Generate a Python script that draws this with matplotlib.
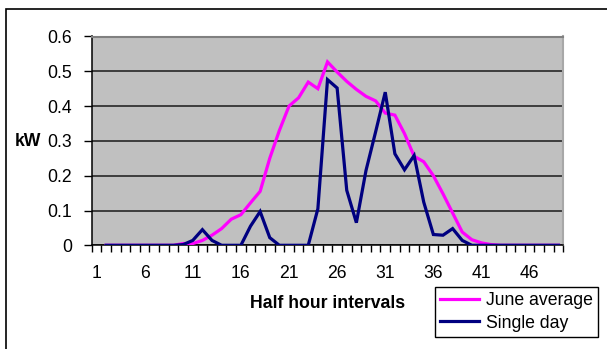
import numpy as np
import matplotlib
matplotlib.use("Agg")
import matplotlib.pyplot as plt
from matplotlib.patches import Rectangle
from matplotlib.ticker import FixedLocator

plt.rcParams['font.family'] = ['Liberation Sans', 'DejaVu Sans']

categories = list(range(1, 50))
tick_labels = [1, 6, 11, 16, 21, 26, 31, 36, 41, 46]
june_average = [np.nan, 0, 0, 0, 0, 0, 0, 0, 0, 0.005,
                0.005, 0.014, 0.029, 0.048, 0.075, 0.088, 0.122, 0.155, 0.25, 0.33,
                0.40, 0.424, 0.469, 0.45, 0.527, 0.498, 0.471, 0.448, 0.428, 0.415,
                0.38, 0.374, 0.321, 0.256, 0.24, 0.2, 0.148, 0.093, 0.038, 0.016,
                0.007, 0.002, 0, 0, 0, 0, 0, 0, 0]
single_day = [np.nan, 0, 0, 0, 0, 0, 0, 0, 0, 0.002,
              0.014, 0.045, 0.014, 0, 0, 0, 0.055, 0.097, 0.022, 0,
              0, 0, 0, 0.105, 0.476, 0.452, 0.158, 0.065, 0.215, 0.326,
              0.44, 0.263, 0.217, 0.258, 0.124, 0.031, 0.029, 0.048, 0.014, 0,
              0, 0, 0, 0, 0, 0, 0, 0, 0]

W, H = 607, 349
fig = plt.figure(figsize=(W / 100, H / 100), dpi=100)
ax = fig.add_axes([91.7 / W, 1 - 245.3 / H, (563.3 - 91.7) / W, (245.3 - 36.5) / H])
ax.set_facecolor('#C0C0C0')

ax.plot(categories, june_average, color='#FF00FF', lw=2.3, solid_joinstyle='miter', zorder=3)
ax.plot(categories, single_day, color='#000080', lw=2.3, solid_joinstyle='miter', zorder=4)

ax.set_xlim(0.5, 49.5)
ax.set_ylim(0, 0.6)
ax.set_yticks(np.arange(0, 0.61, 0.1))
ax.set_yticklabels(['0', '0.1', '0.2', '0.3', '0.4', '0.5', '0.6'])
ax.yaxis.grid(True, color='#1a1a1a', lw=1.1)
ax.set_axisbelow(True)

ax.xaxis.set_major_locator(FixedLocator(tick_labels))
ax.set_xticklabels([str(t) for t in tick_labels])
ax.xaxis.set_minor_locator(FixedLocator(np.arange(0.5, 50, 1)))
ax.tick_params(axis='x', which='major', length=0, pad=14, labelsize=12.7)
ax.tick_params(axis='x', which='minor', length=5, width=1, direction='out', color='black')
ax.tick_params(axis='y', which='major', length=6, width=1, direction='out', pad=8, labelsize=12.7)

for side in ['left', 'bottom']:
    ax.spines[side].set_color('black')
    ax.spines[side].set_linewidth(1.1)
ax.spines['top'].set_color('#808080')
ax.spines['top'].set_linewidth(1.5)
ax.spines['right'].set_color('#A8A8A8')
ax.spines['right'].set_linewidth(1.5)

fig.text(28 / W, 1 - 141 / H, 'kW', fontsize=12.7, fontweight='bold', ha='center', va='center')
fig.text(328 / W, 1 - 304 / H, 'Half hour intervals', fontsize=12.7, fontweight='bold',
         ha='center', va='center')

leg = fig.legend(handles=ax.get_lines(), labels=['June average', 'Single day'],
                 loc='upper left', bbox_to_anchor=(435 / W, 1 - 287 / H),
                 frameon=True, fancybox=False, edgecolor='black', framealpha=1,
                 fontsize=12.7, handlelength=2.2, handletextpad=0.4,
                 borderpad=0.3, labelspacing=0.3, borderaxespad=0)
leg.get_frame().set_linewidth(1)

fig.patches.append(Rectangle((6 / W, -0.1), 1.2, 1.1 - 9 / H, transform=fig.transFigure,
                             fill=False, edgecolor='black', lw=1.2, zorder=0))

fig.savefig('out.png', dpi=100)
